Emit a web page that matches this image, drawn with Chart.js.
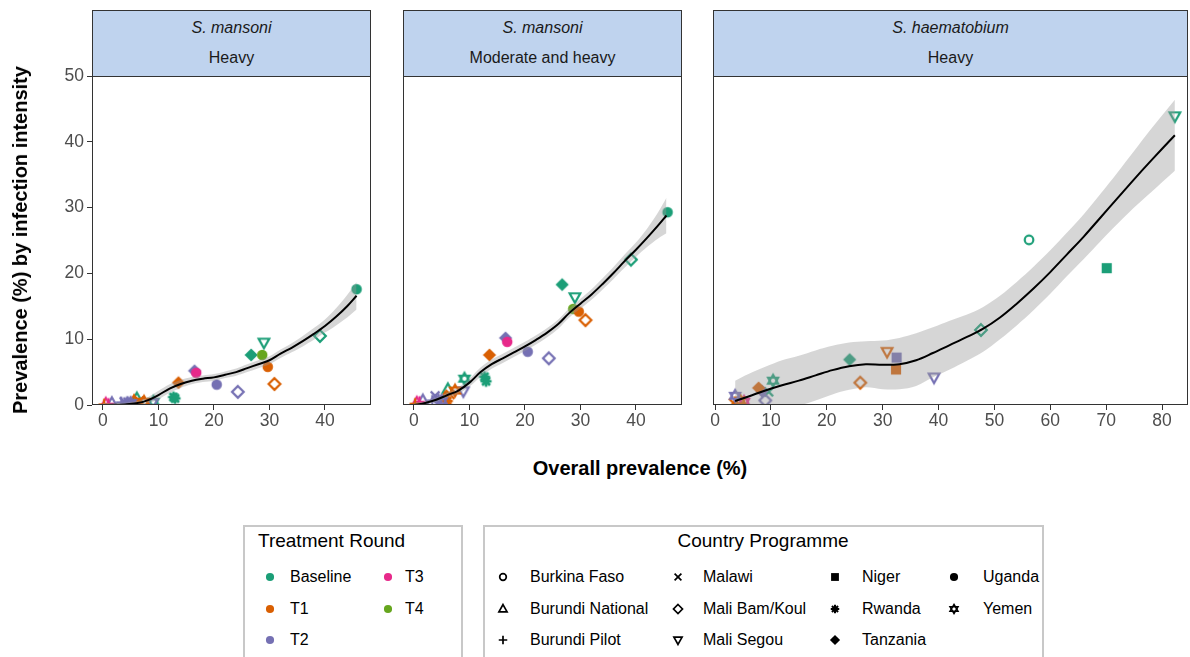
<!DOCTYPE html>
<html>
<head>
<meta charset="utf-8">
<script src="https://cdn.jsdelivr.net/npm/chart.js@4/dist/chart.umd.min.js"></script>
<style>
  html, body { margin:0; padding:0; background:#fff; }
  body { width:1190px; height:657px; position:relative; overflow:hidden;
         font-family:"Liberation Sans", Arial, sans-serif; color:#000; }
  canvas.panel { position:absolute; }
  .strip { position:absolute; top:10px; height:67px; background:#BFD3EE;
           border:1px solid #333; box-sizing:border-box; }
  .strip div { position:absolute; left:0; right:0; text-align:center;
               font-size:16px; line-height:18px; color:#1A1A1A; }
  .strip .sp { top:8px; font-style:italic; }
  .strip .lv { top:38px; }
  .atitle { position:absolute; font-weight:bold; font-size:20px; line-height:24px;
            white-space:nowrap; transform:translate(-50%,-50%); }
  .ytitle { transform:translate(-50%,-50%) rotate(-90deg); }
  .legend { position:absolute; top:525px; height:150px; border:2px solid #C8C8C8;
            box-sizing:border-box; }
  .lg-title { position:absolute; font-size:19px; line-height:22px; white-space:nowrap; }
  .lg-key { position:absolute; }
  .lg-label { position:absolute; font-size:16px; line-height:18px; white-space:nowrap; }
</style>
</head>
<body>
<script>
// ---- Treatment rounds and country programmes ----
const roundNames = ['Baseline', 'T1', 'T2', 'T3', 'T4'];
const countryNames = ['Burkina Faso', 'Burundi National', 'Burundi Pilot', 'Malawi',
  'Mali Bam/Koul', 'Mali Segou', 'Niger', 'Rwanda', 'Tanzania', 'Uganda', 'Yemen'];

// ---- S. mansoni surveys: overall prevalence vs heavy / moderate+heavy prevalence ----
const manCountry = ['Uganda', 'Mali Bam/Koul', 'Mali Segou', 'Tanzania', 'Uganda', 'Uganda',
  'Mali Bam/Koul', 'Mali Bam/Koul', 'Uganda', 'Tanzania', 'Uganda', 'Tanzania', 'Rwanda', 'Rwanda',
  'Yemen', 'Mali Segou', 'Burundi National', 'Yemen', 'Malawi', 'Burundi National', 'Rwanda',
  'Yemen', 'Rwanda', 'Malawi', 'Burundi Pilot', 'Burundi National', 'Burundi Pilot',
  'Burundi National', 'Burundi Pilot'];
const manRound = ['Baseline', 'Baseline', 'Baseline', 'Baseline', 'T4', 'T1',
  'T1', 'T2', 'T2', 'T2', 'T3', 'T1', 'Baseline', 'Baseline',
  'Baseline', 'T2', 'Baseline', 'T1', 'T1', 'T1', 'T1',
  'T2', 'T2', 'T2', 'T2', 'T2', 'T3',
  'T3', 'T1'];
const manOverall = [45.7, 39.1, 29.0, 26.7, 28.7, 29.7,
  30.9, 24.3, 20.5, 16.5, 16.8, 13.6, 12.7, 13.0,
  9.1, 8.9, 6.1, 7.4, 6.5, 5.6, 6.0,
  5.0, 4.4, 3.8, 3.3, 1.6, 1.0,
  0.5, 0.2];
const manHeavy = [17.6, 10.5, 9.5, 7.6, 7.6, 5.8,
  3.2, 2.0, 3.1, 5.2, 4.9, 3.4, 1.2, 1.0,
  0.5, 0.3, 1.0, 0.5, 0.6, 0.6, 0.3,
  0.3, 0.5, 0.5, 0.4, 0.3, 0.2,
  0.2, 0.1];
const manModHeavy = [29.3, 22.1, 16.4, 18.3, 14.6, 14.2,
  12.9, 7.1, 8.1, 10.2, 9.6, 7.6, 4.3, 3.6,
  4.0, 2.1, 2.4, 2.2, 1.6, 1.1, 0.6,
  0.6, 0.9, 1.4, 0.7, 0.7, 0.5,
  0.35, 0.2];

// ---- S. haematobium surveys: overall prevalence vs heavy prevalence ----
const haemCountry = ['Mali Segou', 'Niger', 'Burkina Faso', 'Mali Bam/Koul', 'Mali Segou', 'Niger',
  'Niger', 'Mali Segou', 'Mali Bam/Koul', 'Tanzania', 'Yemen', 'Malawi', 'Mali Bam/Koul',
  'Tanzania', 'Tanzania', 'Yemen', 'Yemen', 'Malawi', 'Yemen'];
const haemRound = ['Baseline', 'Baseline', 'Baseline', 'Baseline', 'T2', 'T2',
  'T1', 'T1', 'T1', 'Baseline', 'Baseline', 'Baseline', 'T2',
  'T2', 'T1', 'T3', 'T1', 'T1', 'T2'];
const haemOverall = [82.3, 70.1, 56.2, 47.6, 39.2, 32.5,
  32.4, 30.8, 26.0, 24.1, 10.4, 9.6, 9.0,
  8.4, 7.8, 5.2, 4.5, 3.3, 3.6];
const haemHeavy = [43.9, 20.8, 25.1, 11.4, 4.2, 7.2,
  5.4, 8.1, 3.4, 6.9, 3.7, 2.0, 0.7,
  2.1, 2.6, 0.5, 0.7, 0.3, 1.4];

// ---- Smoothed fits with confidence bands ----
const fitManHeavyX  = [0, 2, 4, 6, 8, 10, 12, 14, 16, 18, 20, 22, 24, 26, 28, 30, 32, 34, 36, 38, 40, 42, 44, 45.7];
const fitManHeavyY  = [0, 0.02, 0.08, 0.25, 0.7, 1.5, 2.5, 3.2, 3.7, 4.0, 4.2, 4.6, 5.0, 5.6, 6.2, 6.8, 7.8, 8.7, 9.7, 10.8, 12.0, 13.4, 15.0, 16.6];
const fitManHeavyLo = [-0.3, -0.28, -0.22, -0.1, 0.25, 0.85, 1.85, 2.6, 3.15, 3.5, 3.7, 4.1, 4.45, 5.0, 5.6, 6.2, 7.15, 8.0, 8.9, 9.9, 11.0, 12.1, 13.3, 14.5];
const fitManHeavyHi = [0.3, 0.32, 0.38, 0.6, 1.15, 2.15, 3.15, 3.8, 4.25, 4.5, 4.7, 5.1, 5.55, 6.2, 6.8, 7.4, 8.45, 9.4, 10.5, 11.7, 13.0, 14.7, 16.7, 18.7];

const fitManModX  = [0, 2, 4, 6, 8, 10, 12, 14, 16, 18, 20, 22, 24, 26, 28, 30, 32, 34, 36, 38, 40, 42, 44, 45.5];
const fitManModY  = [0, 0.3, 0.8, 1.5, 2.2, 3.4, 5.0, 6.2, 7.1, 8.0, 8.9, 9.9, 11.0, 12.3, 14.0, 15.4, 16.8, 18.4, 20.1, 21.9, 23.6, 25.4, 27.3, 28.8];
const fitManModLo = [-0.3, 0.0, 0.45, 1.1, 1.7, 2.8, 4.3, 5.5, 6.4, 7.3, 8.2, 9.2, 10.3, 11.6, 13.3, 14.65, 16.0, 17.55, 19.2, 20.9, 22.5, 24.0, 25.3, 26.1];
const fitManModHi = [0.3, 0.6, 1.15, 1.9, 2.7, 4.0, 5.7, 6.9, 7.8, 8.7, 9.6, 10.6, 11.7, 13.0, 14.7, 16.15, 17.6, 19.25, 21.0, 22.9, 24.7, 26.8, 29.3, 31.5];

const fitHaemX  = [3.6, 6, 9, 12, 15, 18, 21, 24, 27, 30, 33, 36, 39, 42, 45, 48, 51, 54, 57, 60, 63, 66, 69, 72, 75, 78, 82.3];
const fitHaemY  = [0.6, 1.3, 2.2, 3.0, 3.7, 4.5, 5.3, 5.9, 6.2, 6.1, 6.2, 6.8, 7.9, 9.1, 10.3, 11.6, 13.3, 15.4, 17.7, 20.2, 22.9, 25.6, 28.5, 31.4, 34.3, 37.1, 41.0];
const fitHaemLo = [-2.5, -2.1, -1.4, -0.8, -0.1, 0.7, 1.6, 2.3, 2.7, 2.4, 2.4, 2.9, 4.2, 5.4, 6.7, 8.1, 10.0, 12.1, 14.4, 16.9, 19.6, 22.2, 24.9, 27.5, 30.0, 32.3, 35.6];
const fitHaemHi = [3.7, 4.7, 5.8, 6.8, 7.5, 8.3, 9.0, 9.5, 9.7, 9.8, 10.2, 10.9, 11.8, 12.8, 13.7, 14.9, 16.6, 18.7, 21.0, 23.5, 26.2, 29.0, 32.1, 35.3, 38.6, 41.9, 46.4];

// ---- Axis ticks ----
const yTicks = [0, 10, 20, 30, 40, 50];
const xTicksMan = [0, 10, 20, 30, 40];
const xTicksHaem = [0, 10, 20, 30, 40, 50, 60, 70, 80];

// ---- Styling ----
const roundColors = { 'Baseline': '#1B9E77', 'T1': '#D95F02', 'T2': '#7570B3', 'T3': '#E7298A', 'T4': '#66A61E' };
const countryShapes = {
  'Burkina Faso': 'openCircle', 'Burundi National': 'openTriangle', 'Burundi Pilot': 'plus',
  'Malawi': 'cross', 'Mali Bam/Koul': 'openDiamond', 'Mali Segou': 'openTriangleDown',
  'Niger': 'square', 'Rwanda': 'asterisk', 'Tanzania': 'diamond', 'Uganda': 'circle', 'Yemen': 'hexagram'
};
const FONT = '"Liberation Sans", Arial, sans-serif';
Chart.defaults.font.family = FONT;

// Marker glyphs are drawn once into small canvases and used as point styles.
const markerCache = {};
function markerCanvas(shape, color, scale) {
  const key = shape + color + scale;
  if (markerCache[key]) return markerCache[key];
  const size = 22;
  const c = document.createElement('canvas');
  c.width = size; c.height = size;
  const g = c.getContext('2d');
  g.translate(size / 2, size / 2);
  g.scale(scale, scale);
  g.fillStyle = color; g.strokeStyle = color; g.lineWidth = 2; g.lineJoin = 'miter';
  const poly = (pts, fill) => {
    g.beginPath();
    pts.forEach((p, i) => i ? g.lineTo(p[0], p[1]) : g.moveTo(p[0], p[1]));
    g.closePath();
    fill ? g.fill() : g.stroke();
  };
  switch (shape) {
    case 'circle': g.beginPath(); g.arc(0, 0, 4.8, 0, Math.PI * 2); g.fill(); break;
    case 'openCircle': g.beginPath(); g.arc(0, 0, 3.9, 0, Math.PI * 2); g.stroke(); break;
    case 'openTriangle': poly([[0, -5.2], [4.8, 3.4], [-4.8, 3.4]], false); break;
    case 'openTriangleDown': poly([[0, 5.2], [4.8, -3.4], [-4.8, -3.4]], false); break;
    case 'plus':
      g.beginPath(); g.moveTo(-5, 0); g.lineTo(5, 0); g.moveTo(0, -5); g.lineTo(0, 5); g.stroke(); break;
    case 'cross':
      g.beginPath(); g.moveTo(-4, -4); g.lineTo(4, 4); g.moveTo(4, -4); g.lineTo(-4, 4); g.stroke(); break;
    case 'openDiamond': poly([[0, -5.3], [5.3, 0], [0, 5.3], [-5.3, 0]], false); break;
    case 'square': g.fillRect(-4.6, -4.6, 9.2, 9.2); break;
    case 'diamond': poly([[0, -6], [6, 0], [0, 6], [-6, 0]], true); break;
    case 'asterisk':
      g.lineWidth = 2.4;
      g.beginPath();
      g.moveTo(-5, 0); g.lineTo(5, 0); g.moveTo(0, -5); g.lineTo(0, 5);
      g.moveTo(-3.6, -3.6); g.lineTo(3.6, 3.6); g.moveTo(3.6, -3.6); g.lineTo(-3.6, 3.6);
      g.stroke(); break;
    case 'hexagram':
      g.lineWidth = 1.8;
      poly([[0, -5.4], [4.7, 2.7], [-4.7, 2.7]], false);
      poly([[0, 5.4], [4.7, -2.7], [-4.7, -2.7]], false);
      break;
  }
  markerCache[key] = c;
  return c;
}

// Panel frame drawn around the plotting area.
const framePlugin = {
  id: 'frame',
  afterDraw(chart) {
    const a = chart.chartArea, ctx = chart.ctx;
    ctx.save();
    ctx.strokeStyle = '#333333';
    ctx.lineWidth = 1;
    ctx.strokeRect(Math.round(a.left) + 0.5, Math.round(a.top) + 0.5,
      Math.round(a.right - a.left) - 1, Math.round(a.bottom - a.top) - 1);
    ctx.restore();
  }
};

const toXY = (xs, ys) => xs.map((x, i) => ({ x, y: ys[i] }));

function addStrip(left, width, species, level) {
  const s = document.createElement('div');
  s.className = 'strip';
  s.style.left = left + 'px';
  s.style.width = width + 'px';
  s.innerHTML = '<div class="sp">' + species + '</div><div class="lv">' + level + '</div>';
  document.body.appendChild(s);
}

function buildPanel(p) {
  const padL = 20, padR = 20, padT = 20;
  const yAxisW = p.showY ? 50 : 0;
  const xAxisH = 40;
  const cv = document.createElement('canvas');
  cv.className = 'panel';
  cv.width = p.width + padL + padR + yAxisW;
  cv.height = p.height + padT + xAxisH;
  cv.style.left = (p.left - padL - yAxisW) + 'px';
  cv.style.top = (p.top - padT) + 'px';
  document.body.appendChild(cv);
  addStrip(p.left, p.width, p.species, p.level);

  const pts = toXY(p.px, p.py);
  const styles = p.pc.map((c, i) => markerCanvas(countryShapes[c], roundColors[p.pr[i]], 1.1));
  const tickFont = { family: FONT, size: 17.5 };
  const smooth = { tension: 0.35, cubicInterpolationMode: 'default' };

  new Chart(cv, {
    data: {
      datasets: [
        Object.assign({ type: 'line', data: toXY(p.fx, p.fy), borderColor: '#000', borderWidth: 2,
          pointRadius: 0, fill: false, order: 0 }, smooth),
        Object.assign({ type: 'line', data: toXY(p.fx, p.fhi), borderColor: 'rgba(0,0,0,0)', borderWidth: 0,
          backgroundColor: 'rgba(153,153,153,0.4)', pointRadius: 0, fill: '+1', order: 1 }, smooth),
        Object.assign({ type: 'line', data: toXY(p.fx, p.flo), borderColor: 'rgba(0,0,0,0)', borderWidth: 0,
          pointRadius: 0, fill: false, order: 2 }, smooth),
        { type: 'scatter', data: pts, pointStyle: styles, pointRadius: 5, order: 3 }
      ]
    },
    options: {
      responsive: false, animation: false, devicePixelRatio: 1,
      layout: { padding: { left: padL, right: padR, top: padT, bottom: 0 } },
      plugins: { legend: { display: false }, tooltip: { enabled: false } },
      scales: {
        x: {
          type: 'linear', position: 'bottom', min: p.xMin, max: p.xMax,
          afterBuildTicks: s => { s.ticks = p.xTicks.map(v => ({ value: v })); },
          afterFit: s => { s.height = xAxisH; },
          grid: { drawOnChartArea: false, drawTicks: true, tickLength: 5, color: '#333', lineWidth: 1 },
          border: { display: false },
          ticks: { color: '#4D4D4D', font: tickFont, padding: 1, maxRotation: 0 }
        },
        y: {
          type: 'linear', position: 'left', min: 0, max: 50, display: p.showY,
          afterBuildTicks: s => { s.ticks = yTicks.map(v => ({ value: v })); },
          afterFit: s => { s.width = yAxisW; },
          grid: { drawOnChartArea: false, drawTicks: true, tickLength: 5, color: '#333', lineWidth: 1 },
          border: { display: false },
          ticks: { color: '#4D4D4D', font: tickFont, padding: 3 }
        }
      }
    },
    plugins: [framePlugin]
  });
}

buildPanel({ left: 92, top: 76, width: 279, height: 329, showY: true,
  xMin: -1.98, xMax: 48.3, xTicks: xTicksMan, species: 'S. mansoni', level: 'Heavy',
  px: manOverall, py: manHeavy, pc: manCountry, pr: manRound,
  fx: fitManHeavyX, fy: fitManHeavyY, flo: fitManHeavyLo, fhi: fitManHeavyHi });

buildPanel({ left: 403, top: 76, width: 279, height: 329, showY: false,
  xMin: -1.98, xMax: 48.3, xTicks: xTicksMan, species: 'S. mansoni', level: 'Moderate and heavy',
  px: manOverall, py: manModHeavy, pc: manCountry, pr: manRound,
  fx: fitManModX, fy: fitManModY, flo: fitManModLo, fhi: fitManModHi });

buildPanel({ left: 713, top: 76, width: 475, height: 329, showY: false,
  xMin: -0.36, xMax: 84.65, xTicks: xTicksHaem, species: 'S. haematobium', level: 'Heavy',
  px: haemOverall, py: haemHeavy, pc: haemCountry, pr: haemRound,
  fx: fitHaemX, fy: fitHaemY, flo: fitHaemLo, fhi: fitHaemHi });

// ---- Axis titles ----
function addText(cls, text, x, y) {
  const d = document.createElement('div');
  d.className = cls;
  d.textContent = text;
  d.style.left = x + 'px';
  d.style.top = y + 'px';
  document.body.appendChild(d);
  return d;
}
addText('atitle ytitle', 'Prevalence (%) by infection intensity', 20, 240);
addText('atitle', 'Overall prevalence (%)', 640, 468);

// ---- Legends ----
function addBox(left, width) {
  const b = document.createElement('div');
  b.className = 'legend';
  b.style.left = left + 'px';
  b.style.width = width + 'px';
  document.body.appendChild(b);
}
function addKey(canvas, cx, cy) {
  const k = canvas.cloneNode();
  k.getContext('2d').drawImage(canvas, 0, 0);
  k.className = 'lg-key';
  k.style.left = (cx - canvas.width / 2) + 'px';
  k.style.top = (cy - canvas.height / 2) + 'px';
  document.body.appendChild(k);
}
function addLabel(text, x, cy) {
  return addText('lg-label', text, x, cy - 9);
}

addBox(243, 220);
addText('lg-title', 'Treatment Round', 258, 530);
const roundCols = [[270, 290], [388, 405]];
const rowY = [577, 609, 640];
roundNames.forEach((r, i) => {
  const col = Math.floor(i / 3), row = i % 3;
  addKey(markerCanvas('circle', roundColors[r], 0.85), roundCols[col][0], rowY[row]);
  addLabel(r, roundCols[col][1], rowY[row]);
});

addBox(483, 561);
const t2 = addText('lg-title', 'Country Programme', 763, 530);
t2.style.transform = 'translateX(-50%)';
const countryCols = [[503, 530], [678, 703], [835, 862], [954, 983]];
countryNames.forEach((c, i) => {
  const col = Math.floor(i / 3), row = i % 3;
  addKey(markerCanvas(countryShapes[c], '#000', 0.85), countryCols[col][0], rowY[row]);
  addLabel(c, countryCols[col][1], rowY[row]);
});
</script>
</body>
</html>
